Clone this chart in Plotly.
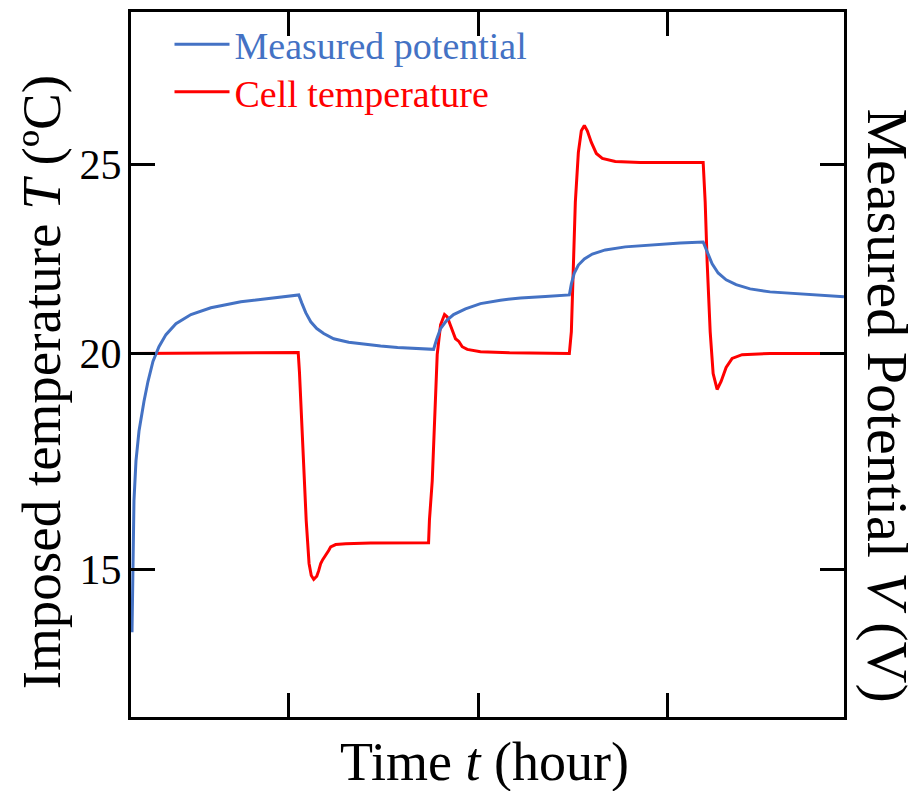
import plotly.graph_objects as go

# Time in hours, temperature in degC (cell temperature)
red_t = [0.516, 3.150, 3.170, 3.190, 3.217, 3.243, 3.277, 3.322, 3.357, 3.396, 3.444, 3.475, 3.507, 3.538,
         3.586, 3.633, 3.665, 3.744, 3.902, 4.298, 5.216,
         5.230, 5.274, 5.311, 5.353, 5.406, 5.469, 5.512, 5.564, 5.643, 5.696, 5.749, 5.829, 6.039, 6.500,
         7.447,
         7.479, 7.511, 7.542, 7.590, 7.637, 7.685, 7.732, 7.796, 7.875, 7.970, 8.175, 8.571, 9.568,
         9.600, 9.631, 9.679, 9.726, 9.789, 9.852, 9.932, 10.027, 10.185, 10.628, 11.799]
red_T = [20.0, 20.03, 19.5, 18.74, 17.5, 16.63, 15.58, 14.45, 14.13, 14.03, 14.11, 14.26, 14.45, 14.55,
         14.66, 14.79, 14.89, 14.95, 14.97, 14.99, 15.0,
         15.6, 16.63, 18.39, 19.97, 20.76, 21.03, 20.97, 20.76, 20.39, 20.32, 20.18, 20.11, 20.05, 20.02,
         20.0,
         20.58, 22.42, 24.0, 25.32, 25.89, 26.03, 25.89, 25.58, 25.29, 25.16, 25.08, 25.05, 25.05,
         24.0, 22.42, 20.58, 19.47, 19.05, 19.26, 19.63, 19.87, 19.97, 20.0, 20.0]

# Measured potential (plotted on the unlabeled right axis)
blue_t = [0.516, 0.524, 0.532, 0.547, 0.579, 0.627, 0.706, 0.769, 0.848, 0.943, 1.054, 1.212, 1.450,
          1.766, 2.241, 2.716, 3.159,
          3.206, 3.269, 3.349, 3.444, 3.554, 3.712, 3.950, 4.187, 4.456, 4.725, 5.010, 5.295,
          5.343, 5.406, 5.501, 5.612, 5.801, 6.039, 6.355, 6.672, 7.067, 7.447,
          7.479, 7.526, 7.590, 7.685, 7.811, 8.017, 8.333, 8.729, 9.204, 9.568,
          9.631, 9.710, 9.805, 9.932, 10.090, 10.312, 10.628, 11.103, 11.799]
blue_V = [12.63, 14.0, 15.05, 16.11, 17.16, 17.95, 18.74, 19.26, 19.79, 20.18, 20.5, 20.79, 21.03,
          21.21, 21.37, 21.47, 21.55,
          21.34, 21.08, 20.84, 20.66, 20.53, 20.39, 20.30, 20.25, 20.20, 20.16, 20.13, 20.11,
          20.37, 20.66, 20.87, 21.03, 21.18, 21.32, 21.41, 21.47, 21.51, 21.55,
          21.84, 22.13, 22.34, 22.50, 22.63, 22.74, 22.82, 22.87, 22.92, 22.95,
          22.68, 22.37, 22.13, 21.95, 21.82, 21.71, 21.63, 21.57, 21.50]

x_ticks = [3, 6, 9]
y_tick_vals = [14.29, 20, 25]
y_tick_text = ["15", "20", "25"]
x_range = [0.5, 11.8]
y_range = [10.39, 29.03]

BLUE = "#4472C4"
RED = "#FF0000"
FONT = "Liberation Serif"

fig = go.Figure()
fig.add_trace(go.Scatter(x=blue_t, y=blue_V, mode="lines",
                         name="<span style='color:%s'>Measured potential</span>" % BLUE,
                         line=dict(color=BLUE, width=3), yaxis="y2", legend="legend"))
fig.add_trace(go.Scatter(x=red_t, y=red_T, mode="lines",
                         name="<span style='color:%s'>Cell temperature</span>" % RED,
                         line=dict(color=RED, width=3), legend="legend2"))

axis_common = dict(showline=True, linecolor="black", linewidth=3, ticks="inside", ticklen=24,
                   tickwidth=3, tickcolor="black", showgrid=False, zeroline=False)
legend_common = dict(xanchor="left", yanchor="top", bgcolor="rgba(0,0,0,0)",
                     font=dict(size=38, family=FONT), itemwidth=55)

fig.update_layout(
    width=912, height=783,
    margin=dict(l=123, r=76, t=1, b=74),
    paper_bgcolor="white", plot_bgcolor="white",
    font=dict(family=FONT, color="black"),
    showlegend=True,
    legend=dict(x=0.054, y=0.9986, **legend_common),
    legend2=dict(x=0.054, y=0.931, **legend_common),
    xaxis=dict(range=x_range, tickvals=x_ticks, showticklabels=False, mirror="ticks", **axis_common),
    yaxis=dict(range=y_range, tickvals=y_tick_vals, ticktext=y_tick_text, mirror=True,
               tickfont=dict(size=42, family=FONT), ticklabelstandoff=-2, **axis_common),
    yaxis2=dict(range=y_range, tickvals=y_tick_vals, overlaying="y", side="right",
                showticklabels=False, **axis_common),
    annotations=[
        dict(text="Imposed temperature <i>T</i> (ºC)", xref="paper", yref="paper", x=-0.125, y=0.4746,
             showarrow=False, textangle=-90, font=dict(size=55, family=FONT), xanchor="center", yanchor="middle"),
        dict(text="Measured Potential <i>V</i> (V)", xref="paper", yref="paper", x=1.0616, y=0.442,
             showarrow=False, textangle=90, font=dict(size=58, family=FONT), xanchor="center", yanchor="middle"),
        dict(text="Time <i>t</i> (hour)", xref="paper", yref="paper", x=0.496, y=-0.064,
             showarrow=False, font=dict(size=54, family=FONT), xanchor="center", yanchor="middle"),
    ],
)
fig.write_html("out.html")
